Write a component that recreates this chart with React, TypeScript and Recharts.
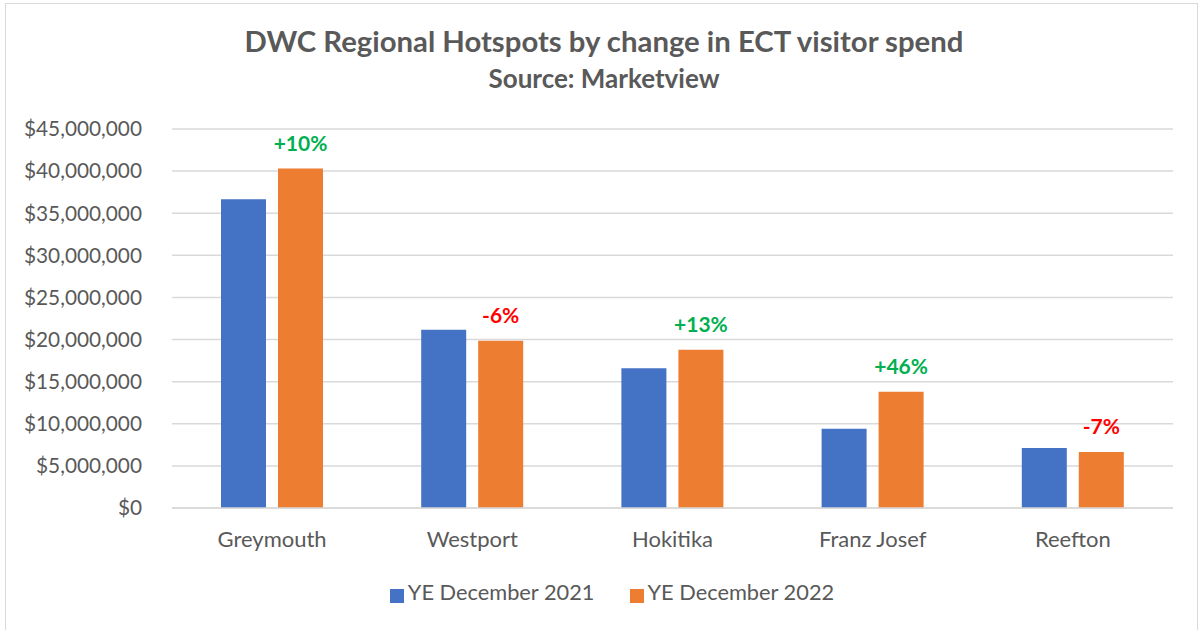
import { Bar, BarChart, CartesianGrid, LabelList, Legend, XAxis, YAxis } from 'recharts';

const categories = ['Greymouth', 'Westport', 'Hokitika', 'Franz Josef', 'Reefton'];
const spend2021 = [36650000, 21150000, 16600000, 9400000, 7120000];
const spend2022 = [40300000, 19850000, 18780000, 13800000, 6640000];
const changeLabels = ['+10%', '-6%', '+13%', '+46%', '-7%'];
const yTicks = [0, 5000000, 10000000, 15000000, 20000000, 25000000, 30000000, 35000000, 40000000, 45000000];

const data = categories.map((name, i) => ({
  name,
  y2021: spend2021[i],
  y2022: spend2022[i],
  change: changeLabels[i],
}));

const font = 'Lato, "Open Sans", sans-serif';
const grey = '#595959';

const money = (v: number) => '$' + v.toLocaleString('en-US');

function ChangeLabel(props: any) {
  const { x, y, width, value } = props;
  const up = String(value).startsWith('+');
  return (
    <text
      x={Number(x) + Number(width) / 2}
      y={Number(y) - 25}
      dy="0.35em"
      textAnchor="middle"
      fontFamily={font}
      fontWeight={700}
      fontSize={21}
      fill={up ? '#00B050' : '#FF0000'}
    >
      {value}
    </text>
  );
}

export default function App() {
  return (
    <div style={{ position: 'absolute', left: 0, top: 0, width: 1203, height: 630, overflow: 'hidden', background: '#fff', fontFamily: font }}>
      <div style={{ position: 'absolute', left: 5, top: 3, width: 1191, height: 700, border: '1px solid #d9d9d9' }} />
      <svg width={1203} height={110} style={{ position: 'absolute', left: 0, top: 0 }}>
        <text x={604} y={52} textAnchor="middle" fontFamily={font} fontWeight={700} fontSize={29.3} fill={grey}>
          DWC Regional Hotspots by change in ECT visitor spend
        </text>
        <text x={604} y={88} textAnchor="middle" fontFamily={font} fontWeight={700} fontSize={26} fill={grey}>
          Source: Marketview
        </text>
      </svg>
      <div style={{ position: 'absolute', left: 0, top: 0 }}>
        <BarChart width={1203} height={630} data={data} margin={{ top: 129, right: 30, left: 0, bottom: 32 }} barGap={12} barSize={45}>
          <CartesianGrid vertical={false} stroke="#d9d9d9" strokeWidth={1.5} />
          <XAxis
            dataKey="name"
            height={60}
            tickSize={0}
            tickMargin={23}
            axisLine={{ stroke: '#d9d9d9', strokeWidth: 1.5 }}
            tick={{ fill: grey, fontSize: 22, fontFamily: font }}
          />
          <YAxis
            width={172}
            domain={[0, 45000000]}
            ticks={yTicks}
            tickFormatter={money}
            axisLine={false}
            tickSize={0}
            tickMargin={30}
            tick={{ fill: grey, fontSize: 20.8, fontFamily: font }}
          />
          <Legend
            verticalAlign="bottom"
            iconType="square"
            iconSize={14}
            wrapperStyle={{ top: 578, bottom: 'auto', left: 27, width: 1180, height: 30 }}
            formatter={(value: string, _e: any, index: number) => (
              <span style={{ color: grey, fontSize: 21.8, fontFamily: font, marginRight: index === 0 ? 25 : 0 }}>{value}</span>
            )}
          />
          <Bar dataKey="y2021" name="YE December 2021" fill="#4472C4" isAnimationActive={false} />
          <Bar dataKey="y2022" name="YE December 2022" fill="#ED7D31" isAnimationActive={false}>
            <LabelList dataKey="change" content={ChangeLabel} />
          </Bar>
        </BarChart>
      </div>
    </div>
  );
}
